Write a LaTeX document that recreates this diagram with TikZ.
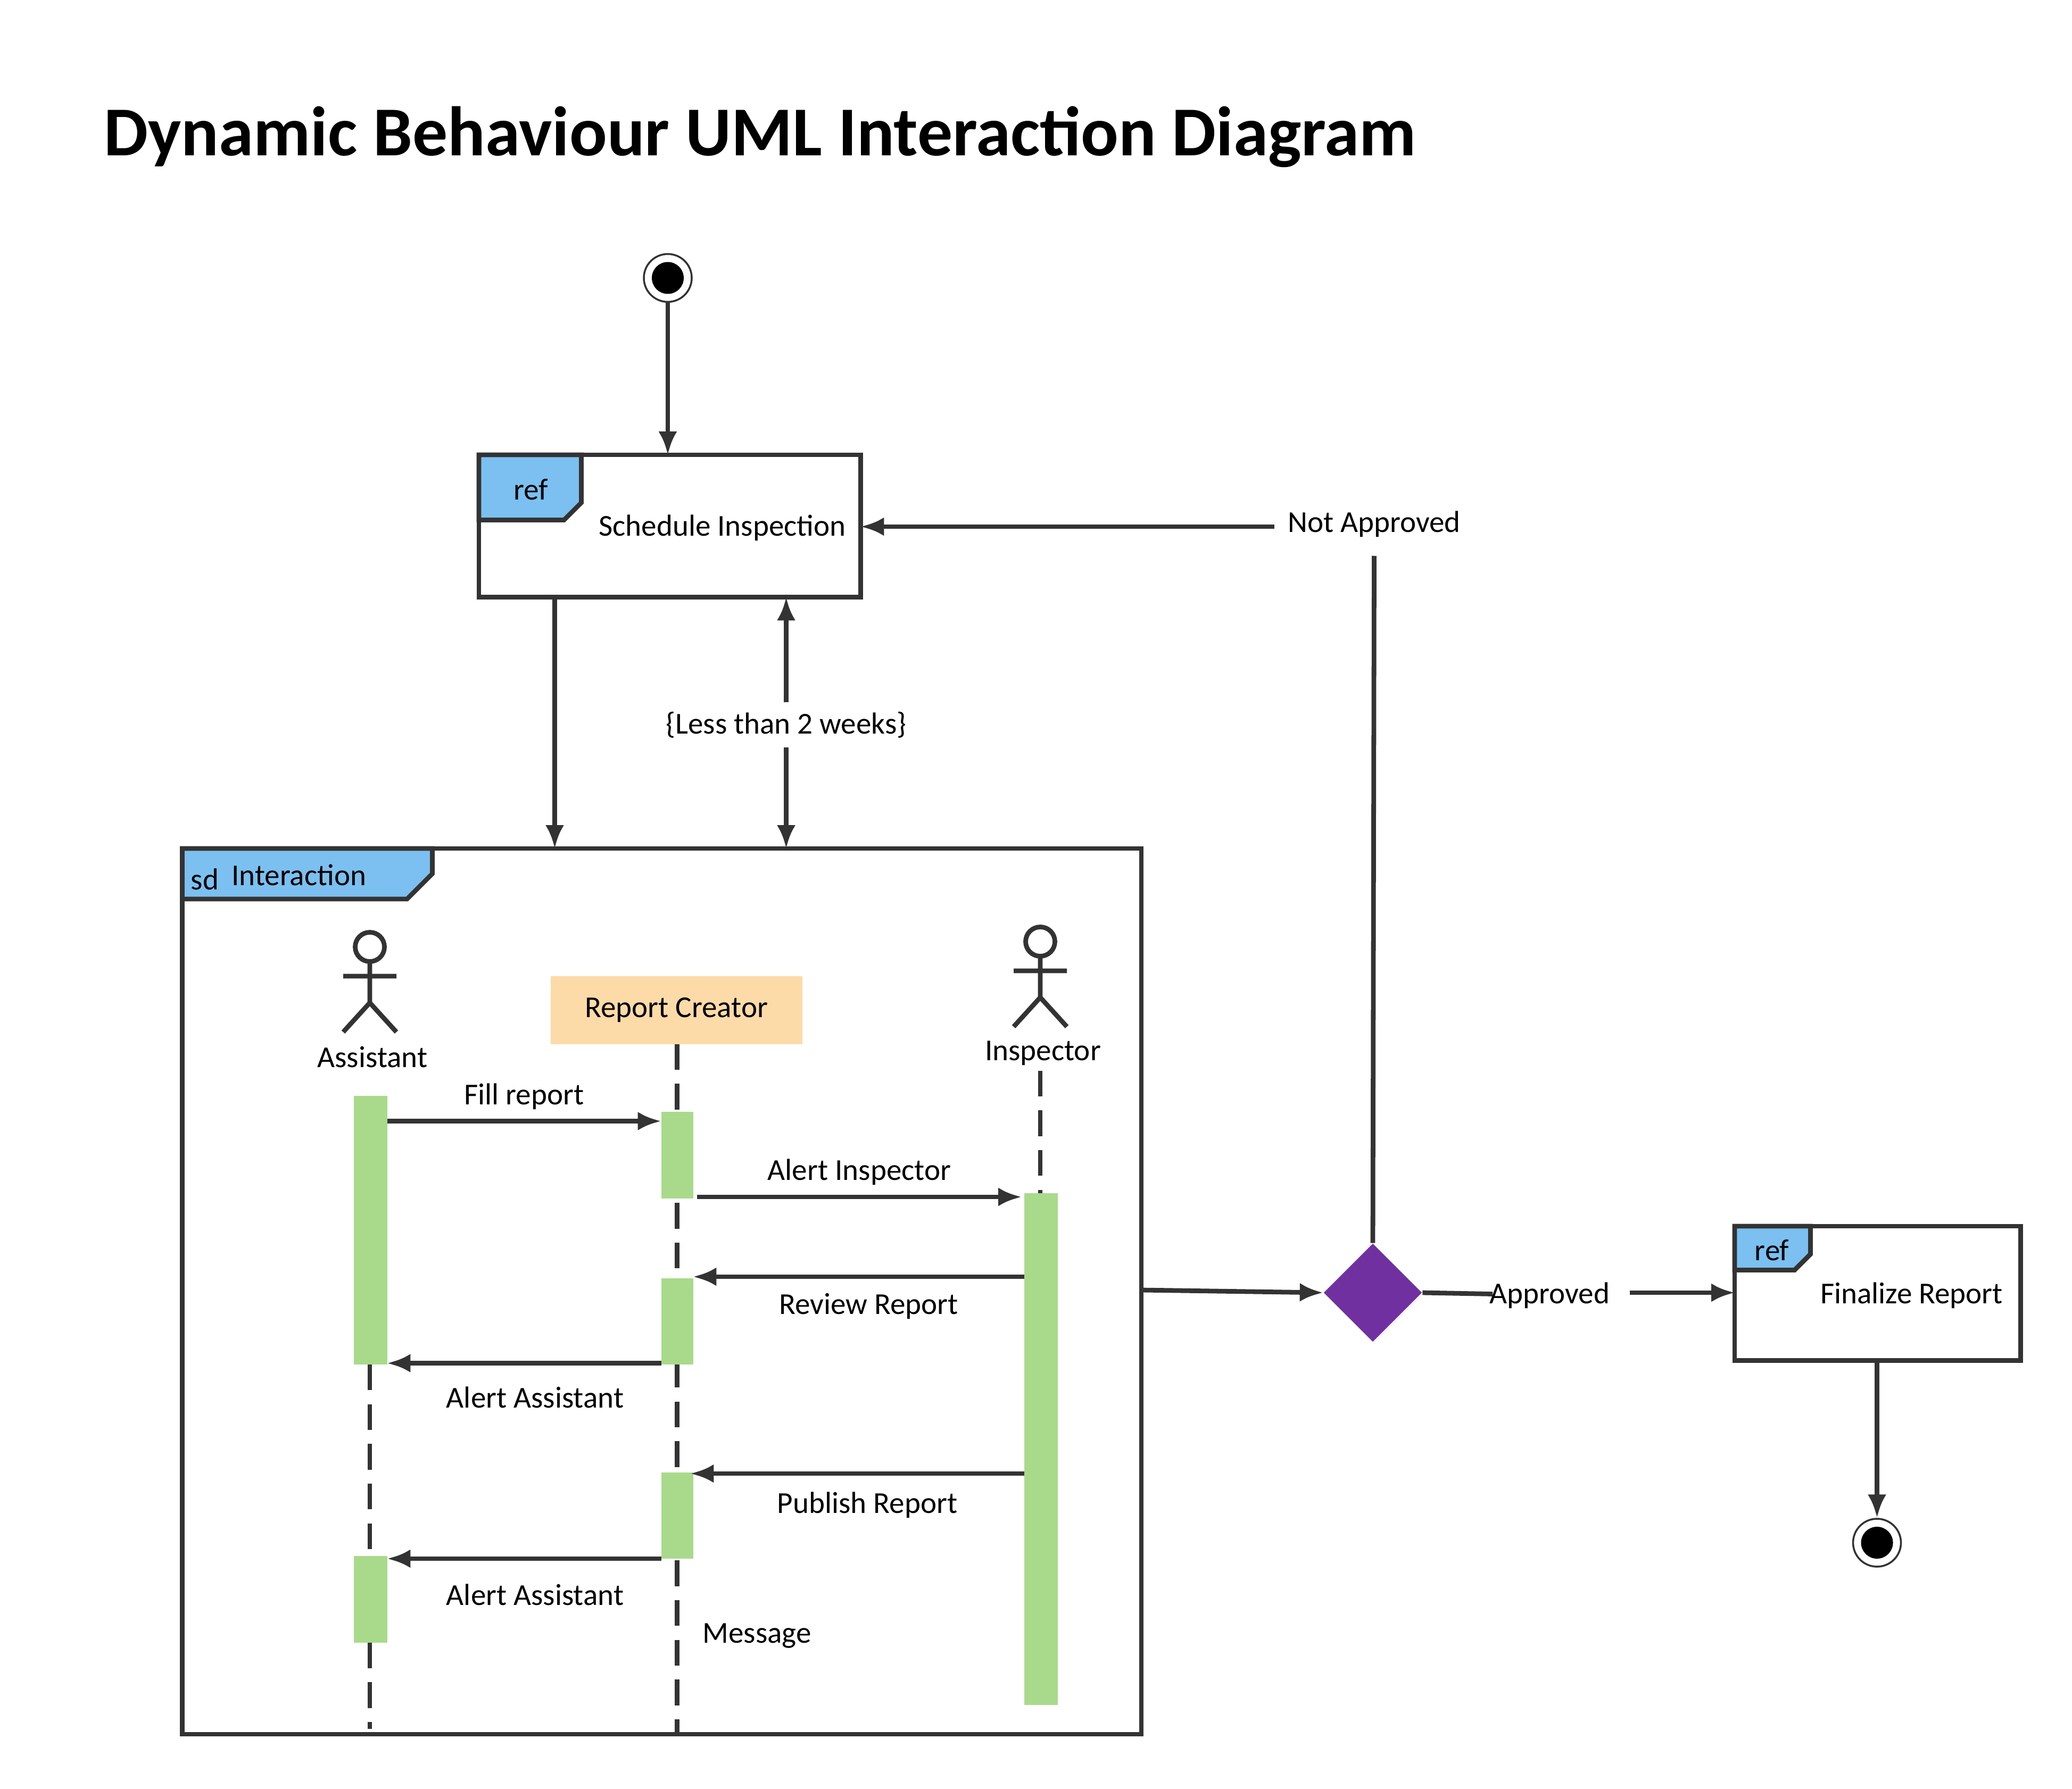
\documentclass[tikz,border=0pt]{standalone}
\usepackage{fontspec}
\setmainfont{Carlito}
\usetikzlibrary{arrows.meta,shapes.geometric}
\definecolor{linegray}{HTML}{333333}
\definecolor{refblue}{HTML}{7BC0F0}
\definecolor{actgreen}{HTML}{A9DA8B}
\definecolor{boxorange}{HTML}{FDDBA8}
\definecolor{decpurple}{HTML}{7030A0}
\tikzset{
  trait/.style={linegray,line width=2pt},
  fleche/.style={trait,-{Latex[length=10pt,width=8pt]}},
  vie/.style={trait,dash pattern=on 11pt off 6pt},
  activ/.style={fill=actgreen,draw=none},
  etiq/.style={font=\fontsize{13}{15}\selectfont,text=black,inner sep=1pt},
  onglet/.style={trait,fill=refblue},
}
\begin{document}
\begin{tikzpicture}[x=0.02cm,y=-0.02cm]
\useasboundingbox (0,0) rectangle (1557.6,1345.2);
% titre
\node[anchor=west,font=\bfseries\fontsize{30}{36}\selectfont] (titre) at (72,103) {Dynamic Behaviour UML Interaction Diagram};

% debut
\node[circle,draw=linegray,line width=0.8pt,minimum size=36*0.02cm,inner sep=0] (debut) at (502,209) {};
\fill (debut) circle (12);

% ref schedule
\draw[trait] (360,342) rectangle (647,449);
\draw[onglet] (360,342) -- (437,342) -- (437,378) -- (424,391) -- (360,391) -- cycle;
\node[etiq] (refA) at (399,368) {ref};
\node[etiq] (sched) at (543,397) {Schedule Inspection};
\coordinate (schedN) at (502,342);
\coordinate (schedE) at (647,396);
\coordinate (schedS1) at (417,449);
\coordinate (schedS2) at (591,449);
\draw[fleche] (debut) -- (schedN);

% cadre sd
\draw[trait] (137,638) rectangle (858,1304);
\draw[onglet] (137,638) -- (325,638) -- (325,657) -- (306,676) -- (137,676) -- cycle;
\node[etiq] (sd) at (154,661) {sd};
\node[etiq,anchor=west] (inter) at (172,658) {Interaction};
\coordinate (sdN1) at (417,638);
\coordinate (sdN2) at (591,638);
\coordinate (sdE) at (858,970);
\draw[fleche] (schedS1) -- (sdN1);
\draw[trait,{Latex[length=10pt,width=8pt]}-{Latex[length=10pt,width=8pt]}] (schedS2) -- (sdN2);
\node[etiq,fill=white,inner ysep=4pt] (delai) at (591,545) {\{Less than 2 weeks\}};

% acteurs
\foreach \nom/\x/\y/\ly in {Assistant/278/712/795,Inspector/782/708/792}{
  \draw[trait] (\x,\y) circle (11);
  \draw[trait] (\x,\y+11) -- (\x,\y+42) (\x-20,\y+22) -- (\x+20,\y+22)
    (\x-20,\y+64) -- (\x,\y+42) -- (\x+20,\y+64);
  \node[etiq] (\nom) at (\x+2,\ly) {\nom};
}
\node[fill=boxorange,minimum width=189*0.02cm,minimum height=51*0.02cm,etiq] (creator) at (508.5,759.5) {Report Creator};

% lignes de vie
\draw[vie] (278,1026) -- (278,1300);
\draw[vie] (509,785) -- (509,1304);
\draw[vie] (782,805) -- (782,897);

% activations
\fill[activ] (266,824) rectangle (291,1026);
\fill[activ] (266,1170) rectangle (291,1235);
\fill[activ] (497,836) rectangle (521,901);
\fill[activ] (497,961) rectangle (521,1026);
\fill[activ] (497,1107) rectangle (521,1172);
\fill[activ] (770,897) rectangle (795,1282);

% messages
\draw[fleche] (291,843) -- (497,843) node[etiq,midway,above=3pt] (m1) {Fill report};
\draw[fleche] (524,900) -- (768,900) node[etiq,midway,above=3pt] (m2) {Alert Inspector};
\draw[fleche] (770,960) -- (521,960) node[etiq,pos=0.47,below=5pt] (m3) {Review Report};
\draw[fleche] (497,1025) -- (291,1025) node[etiq,pos=0.46,below=8pt] (m4) {Alert Assistant};
\draw[fleche] (770,1108) -- (519,1108) node[etiq,pos=0.47,below=6pt] (m5) {Publish Report};
\draw[fleche] (497,1172) -- (291,1172) node[etiq,pos=0.46,below=9pt] (m6) {Alert Assistant};
\node[etiq] (msg) at (569,1230) {Message};

% decision
\node[diamond,fill=decpurple,minimum size=74*0.02cm,inner sep=0] (choix) at (1032,972) {};
\draw[fleche] (sdE) -- (choix.west);
\node[etiq] (nonok) at (1033,394) {Not Approved};
\draw[trait] (choix.north) -- (1033,418);
\draw[fleche] (958,396) -- (schedE);
\node[etiq] (ok) at (1165,974) {Approved};
\draw[trait] (choix.east) -- (1122,973);
\coordinate (finW) at (1304,972);
\draw[fleche] (1225,972) -- (finW);

% ref finalize
\draw[trait] (1304,922) rectangle (1519,1023);
\draw[onglet] (1304,922) -- (1361,922) -- (1361,943) -- (1349,955) -- (1304,955) -- cycle;
\node[etiq] (refB) at (1332,940) {ref};
\node[etiq] (final) at (1437,974) {Finalize Report};
\coordinate (finS) at (1411,1023);

% fin
\node[circle,draw=linegray,line width=0.8pt,minimum size=36*0.02cm,inner sep=0] (fin) at (1411,1160) {};
\fill (fin) circle (12);
\draw[fleche] (finS) -- (fin);
\end{tikzpicture}
\end{document}
